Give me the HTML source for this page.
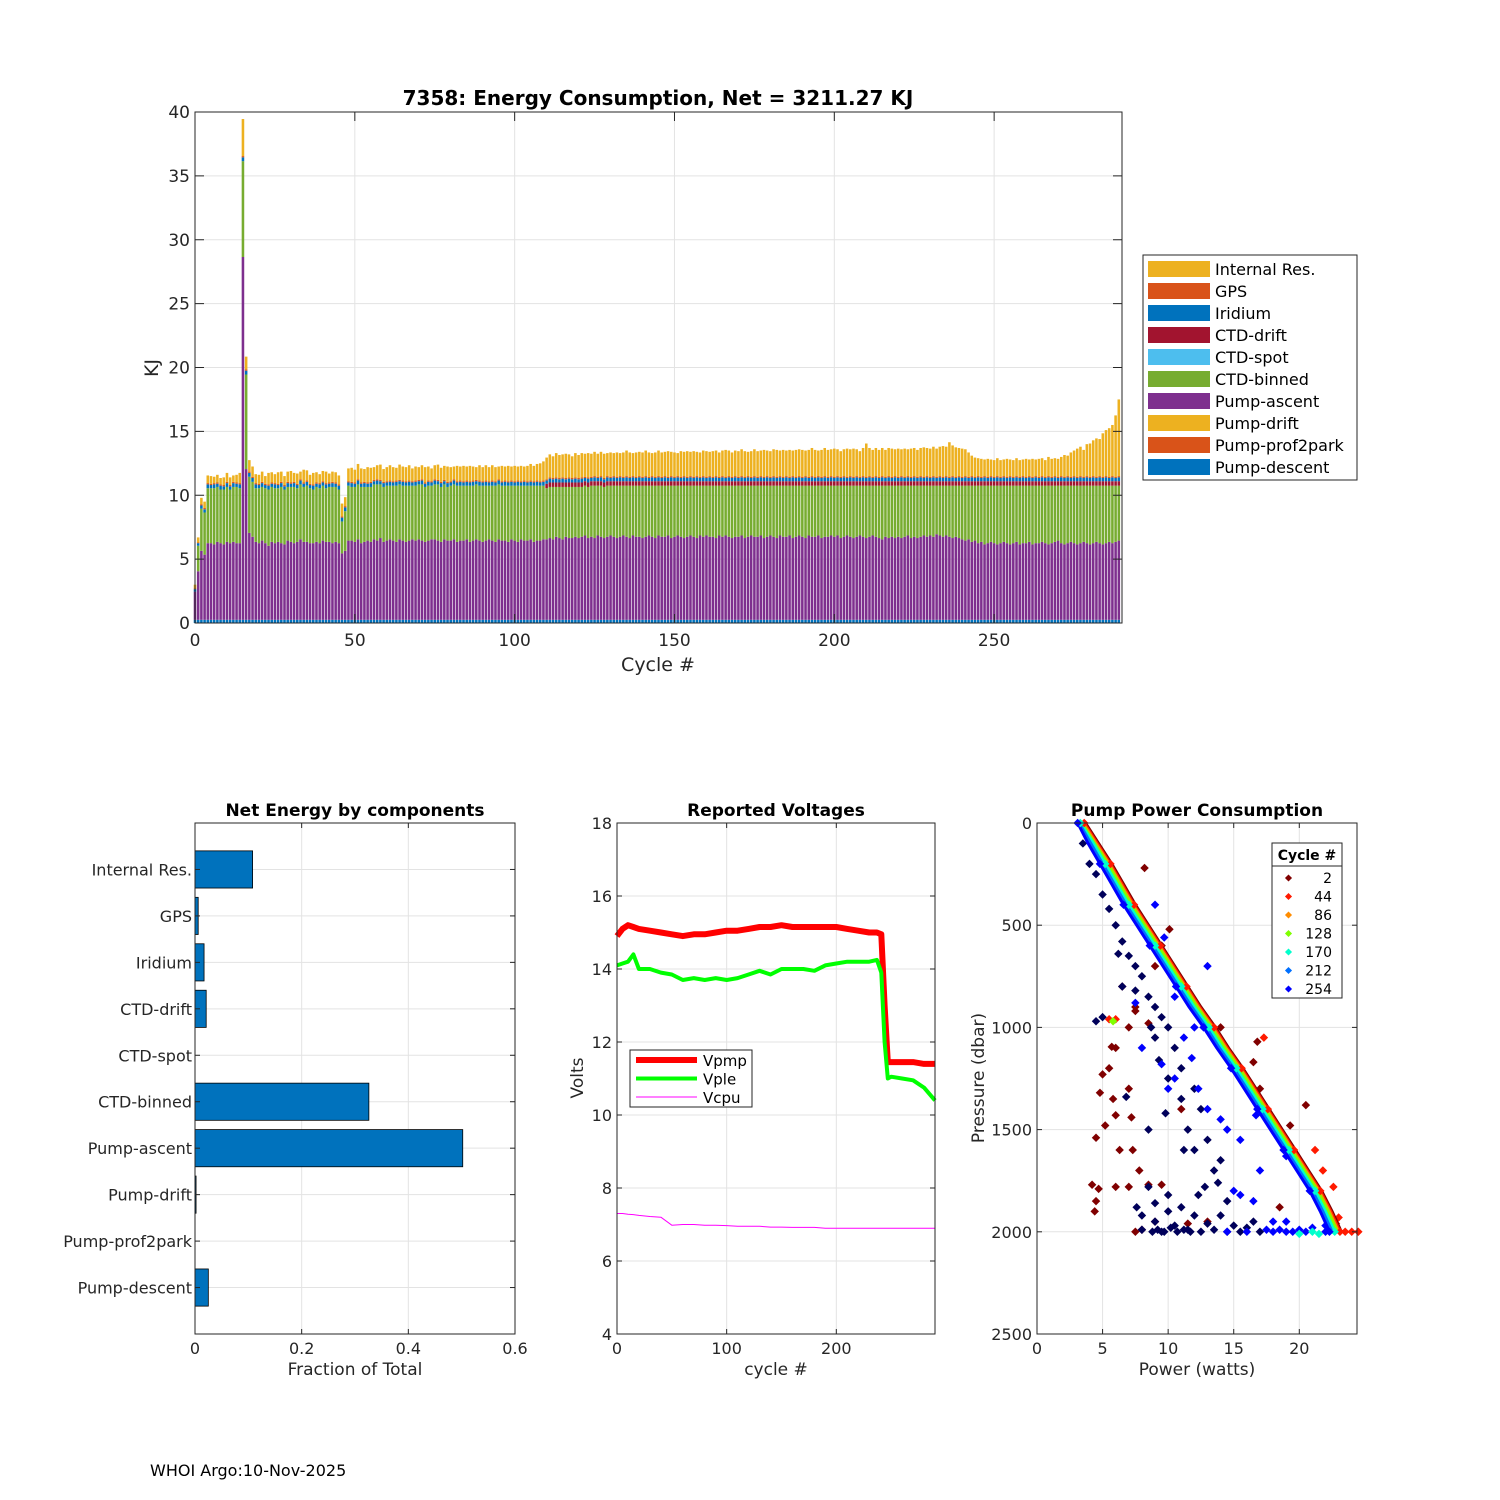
<!DOCTYPE html>
<html><head><meta charset="utf-8"><style>
body{margin:0;background:#fff;}
svg{display:block;font-family:"DejaVu Sans","Liberation Sans",sans-serif;}
</style></head><body>
<svg id="fig" width="1500" height="1500" viewBox="0 0 1500 1500" xmlns="http://www.w3.org/2000/svg">
<rect width="1500" height="1500" fill="#fff"/>
<g id="top"></g>
<g id="bl"></g>
<g id="bm"></g>
<g id="br"></g>
<text x="150" y="1476" font-size="16" fill="#000">WHOI Argo:10-Nov-2025</text>
</svg>
<script>
// ---------- Top chart data ----------
const asc = [2.2,3.8,5.4,5.1,6.0,6.0,5.9,6.1,6.0,5.9,
6.1,6.0,6.1,6.0,6.0,28.4,11.8,6.8,6.5,6.1,
6.0,6.2,6.0,5.8,6.1,6.0,6.1,6.0,5.9,6.2,
6.1,6.0,6.1,6.3,6.1,6.1,6.0,6.0,6.1,6.0,
6.2,6.1,6.1,6.0,6.1,6.0,5.2,5.4,6.2,6.2,
6.1,6.3,6.0,6.1,6.2,6.1,6.3,6.2,6.4,6.1,
6.2,6.3,6.2,6.1,6.3,6.2,6.1,6.2,6.3,6.2,
6.3,6.2,6.1,6.2,6.3,6.3,6.2,6.1,6.3,6.2,
6.2,6.3,6.1,6.2,6.2,6.3,6.1,6.2,6.3,6.2,
6.1,6.2,6.3,6.2,6.1,6.3,6.2,6.2,6.1,6.3,
6.2,6.1,6.3,6.2,6.2,6.3,6.1,6.2,6.2,6.3,
6.3,6.4,6.3,6.5,6.4,6.3,6.5,6.4,6.4,6.5,
6.4,6.5,6.6,6.4,6.5,6.4,6.6,6.5,6.4,6.5,
6.6,6.5,6.4,6.5,6.6,6.5,6.4,6.6,6.5,6.5,
6.4,6.5,6.6,6.5,6.4,6.6,6.5,6.5,6.6,6.4,
6.5,6.6,6.5,6.4,6.5,6.6,6.5,6.4,6.6,6.5,
6.6,6.5,6.5,6.4,6.6,6.5,6.6,6.5,6.4,6.5,
6.5,6.6,6.4,6.5,6.6,6.5,6.5,6.6,6.4,6.5,
6.6,6.5,6.4,6.6,6.5,6.5,6.6,6.4,6.5,6.6,
6.5,6.4,6.6,6.5,6.5,6.6,6.4,6.5,6.5,6.6,
6.5,6.6,6.4,6.5,6.6,6.5,6.4,6.5,6.6,6.5,
6.4,6.5,6.6,6.5,6.4,6.3,6.5,6.4,6.5,6.4,
6.5,6.4,6.5,6.6,6.4,6.5,6.4,6.5,6.6,6.5,
6.6,6.5,6.7,6.6,6.5,6.6,6.5,6.4,6.5,6.4,
6.3,6.2,6.3,6.1,6.2,6.0,6.1,5.9,6.0,6.1,
6.0,5.9,6.0,6.1,6.0,5.9,6.0,6.1,5.9,6.0,
6.0,6.1,5.9,6.0,6.0,6.1,6.0,5.9,6.0,6.1,
6.2,6.0,5.9,6.0,6.1,6.0,5.9,6.0,6.1,6.0,
5.9,6.0,6.1,6.0,5.9,6.0,6.1,6.0,6.1,6.2];
const binned = [0,2.0,3.3,3.3,4.3,4.3,4.4,4.3,4.2,4.3,
4.3,4.2,4.3,4.4,4.3,7.5,7.4,4.4,4.3,4.2,
4.3,4.2,4.3,4.4,4.3,4.3,4.2,4.4,4.3,4.2,
4.3,4.4,4.2,4.3,4.3,4.4,4.3,4.2,4.3,4.3,
4.3,4.2,4.3,4.4,4.3,4.2,2.5,3.1,4.3,4.2,
4.3,4.3,4.4,4.3,4.2,4.3,4.3,4.4,4.2,4.3,
4.3,4.2,4.3,4.4,4.3,4.3,4.4,4.3,4.2,4.3,
4.3,4.4,4.3,4.3,4.2,4.3,4.4,4.3,4.3,4.2,
4.3,4.3,4.4,4.3,4.3,4.2,4.4,4.3,4.3,4.3,
4.4,4.3,4.2,4.3,4.4,4.3,4.3,4.3,4.4,4.2,
4.3,4.4,4.2,4.3,4.3,4.2,4.4,4.3,4.3,4.2,
4.0,4.0,4.1,3.9,4.0,4.1,3.9,4.0,4.0,3.9,
4.0,3.9,3.9,4.0,4.0,4.1,3.9,4.0,4.0,4.0,
3.9,4.0,4.1,4.0,3.9,4.0,4.1,3.9,4.0,4.0,
4.1,4.0,3.9,4.0,4.1,3.9,4.0,4.0,3.9,4.1,
4.0,3.9,4.0,4.1,4.0,3.9,4.0,4.1,3.9,4.0,
3.9,4.0,4.0,4.1,3.9,4.0,3.9,4.0,4.1,4.0,
4.0,3.9,4.1,4.0,3.9,4.0,4.0,3.9,4.1,4.0,
3.9,4.0,4.1,3.9,4.0,4.0,3.9,4.1,4.0,3.9,
4.0,4.1,3.9,4.0,4.0,3.9,4.1,4.0,4.0,3.9,
4.0,3.9,4.1,4.0,3.9,4.0,4.1,4.0,3.9,4.0,
4.1,4.0,3.9,4.0,4.1,4.2,4.0,4.1,4.0,4.1,
4.0,4.1,4.0,3.9,4.1,4.0,4.1,4.0,3.9,4.0,
3.9,4.0,3.8,3.9,4.0,3.9,4.0,4.1,4.0,4.1,
4.2,4.3,4.2,4.4,4.3,4.5,4.4,4.6,4.5,4.4,
4.5,4.6,4.5,4.4,4.5,4.6,4.5,4.4,4.6,4.5,
4.5,4.4,4.6,4.5,4.5,4.4,4.5,4.6,4.5,4.4,
4.3,4.5,4.6,4.5,4.4,4.5,4.6,4.5,4.4,4.5,
4.6,4.5,4.4,4.5,4.6,4.5,4.4,4.5,4.4,4.3];
const intRes = [0.3,0.4,0.5,0.5,0.6,0.6,0.5,0.6,0.5,0.6,
0.7,0.6,0.5,0.6,0.8,2.9,1.0,0.9,0.8,0.7,
0.7,0.8,0.6,0.9,0.8,0.7,0.9,0.8,0.7,0.8,
0.9,0.7,0.8,0.6,1.0,0.8,0.7,0.9,0.8,0.7,
0.8,0.9,0.7,0.8,0.8,0.7,1.0,0.7,1.0,1.1,
1.0,1.2,1.1,1.0,1.2,1.1,1.0,1.1,1.2,1.0,
1.1,1.2,1.1,1.0,1.2,1.1,1.1,1.2,1.0,1.1,
1.0,1.1,1.2,1.1,1.0,1.1,1.2,1.1,1.1,1.2,
1.1,1.0,1.2,1.1,1.2,1.1,1.2,1.1,1.0,1.2,
1.1,1.2,1.1,1.2,1.1,1.0,1.2,1.1,1.2,1.1,
1.2,1.1,1.2,1.1,1.2,1.3,1.2,1.3,1.4,1.5,
1.7,1.8,1.7,1.9,1.8,1.8,1.9,1.8,1.7,1.9,
1.8,1.9,1.8,1.9,1.8,1.9,1.8,1.9,1.9,1.8,
1.9,1.8,1.9,1.8,1.9,2.0,1.9,1.8,1.9,1.9,
1.9,2.0,1.9,1.8,1.9,2.0,1.9,1.9,2.0,1.9,
1.9,1.8,2.0,1.9,2.0,1.9,2.0,1.9,1.9,2.0,
2.0,1.9,2.0,2.0,1.9,2.0,2.1,2.0,1.9,2.0,
2.0,2.1,2.0,1.9,2.0,2.1,2.0,2.0,2.1,2.0,
2.0,2.1,2.1,2.0,2.1,2.0,2.1,2.0,2.1,2.1,
2.1,2.0,2.1,2.2,2.1,2.0,2.1,2.2,2.1,2.1,
2.2,2.1,2.0,2.1,2.2,2.1,2.2,2.1,2.0,2.2,
2.6,2.2,2.1,2.2,2.1,2.2,2.1,2.2,2.2,2.1,
2.2,2.1,2.2,2.1,2.2,2.2,2.1,2.2,2.3,2.2,
2.2,2.3,2.2,2.3,2.4,2.3,2.7,2.4,2.3,2.2,
2.2,2.1,1.9,1.6,1.5,1.4,1.4,1.3,1.4,1.3,
1.3,1.4,1.3,1.3,1.4,1.3,1.3,1.4,1.3,1.3,
1.4,1.3,1.4,1.3,1.4,1.4,1.3,1.5,1.4,1.4,
1.4,1.5,1.7,1.6,1.9,2.0,2.2,2.3,2.1,2.5,
2.6,2.8,3.0,2.9,3.4,3.6,3.8,4.0,4.8,6.0];
const ctdDrift = [0,0,0,0,0,0,0,0,0,0, 0,0,0,0,0,0,0,0,0,0, 0,0,0,0,0,0,0,0,0,0, 0,0,0,0,0,0,0,0,0,0, 0,0,0,0,0,0,0,0,0,0, 0,0,0,0,0,0,0,0,0,0, 0,0,0,0,0,0,0,0,0,0, 0,0,0,0,0,0,0,0,0,0, 0,0,0,0,0,0,0,0,0,0, 0,0,0,0,0,0,0,0,0,0, 0,0,0,0,0,0,0,0,0,0,
0.35,0.35,0.35,0.35,0.35,0.35,0.35,0.35,0.35,0.35, 0.35,0.35,0.35,0.35,0.35,0.35,0.35,0.35,0.35,0.35, 0.35,0.35,0.35,0.35,0.35,0.35,0.35,0.35,0.35,0.35, 0.35,0.35,0.35,0.35,0.35,0.35,0.35,0.35,0.35,0.35, 0.35,0.35,0.35,0.35,0.35,0.35,0.35,0.35,0.35,0.35, 0.35,0.35,0.35,0.35,0.35,0.35,0.35,0.35,0.35,0.35,
0.35,0.35,0.35,0.35,0.35,0.35,0.35,0.35,0.35,0.35, 0.35,0.35,0.35,0.35,0.35,0.35,0.35,0.35,0.35,0.35, 0.35,0.35,0.35,0.35,0.35,0.35,0.35,0.35,0.35,0.35, 0.35,0.35,0.35,0.35,0.35,0.35,0.35,0.35,0.35,0.35, 0.35,0.35,0.35,0.35,0.35,0.35,0.35,0.35,0.35,0.35, 0.35,0.35,0.35,0.35,0.35,0.35,0.35,0.35,0.35,0.35,
0.35,0.35,0.35,0.35,0.35,0.35,0.35,0.35,0.35,0.35, 0.35,0.35,0.35,0.35,0.35,0.35,0.35,0.35,0.35,0.35, 0.35,0.35,0.35,0.35,0.35,0.35,0.35,0.35,0.35,0.35, 0.35,0.35,0.35,0.35,0.35,0.35,0.35,0.35,0.35,0.35, 0.35,0.35,0.35,0.35,0.35,0.35,0.35,0.35,0.35,0.35, 0.35,0.35,0.35,0.35,0.35,0.35,0.35,0.35,0.35,0.35];
const iridium = [0.2,0.2,0.25,0.25,0.3,0.25,0.3,0.25,0.3,0.25, 0.3,0.25,0.3,0.25,0.3,0.3,0.3,0.3,0.3,0.3, 0.25,0.3,0.25,0.3,0.25,0.3,0.25,0.3,0.25,0.3, 0.25,0.3,0.25,0.3,0.25,0.3,0.25,0.3,0.25,0.3, 0.25,0.3,0.25,0.3,0.25,0.3,0.3,0.3,0.25,0.3,
0.25,0.3,0.25,0.3,0.25,0.3,0.25,0.3,0.25,0.3, 0.25,0.3,0.25,0.3,0.25,0.3,0.25,0.3,0.25,0.3, 0.25,0.3,0.25,0.3,0.25,0.3,0.25,0.3,0.25,0.3, 0.25,0.3,0.25,0.3,0.25,0.3,0.25,0.3,0.25,0.3, 0.25,0.3,0.25,0.3,0.25,0.3,0.25,0.3,0.25,0.3,
0.25,0.3,0.25,0.3,0.25,0.3,0.25,0.3,0.25,0.3, 0.25,0.3,0.25,0.3,0.25,0.3,0.25,0.3,0.25,0.3, 0.25,0.3,0.25,0.3,0.25,0.3,0.25,0.3,0.25,0.3, 0.25,0.3,0.25,0.3,0.25,0.3,0.25,0.3,0.25,0.3, 0.25,0.3,0.25,0.3,0.25,0.3,0.25,0.3,0.25,0.3,
0.25,0.3,0.25,0.3,0.25,0.3,0.25,0.3,0.25,0.3, 0.25,0.3,0.25,0.3,0.25,0.3,0.25,0.3,0.25,0.3, 0.25,0.3,0.25,0.3,0.25,0.3,0.25,0.3,0.25,0.3, 0.25,0.3,0.25,0.3,0.25,0.3,0.25,0.3,0.25,0.3, 0.25,0.3,0.25,0.3,0.25,0.3,0.25,0.3,0.25,0.3,
0.25,0.3,0.25,0.3,0.25,0.3,0.25,0.3,0.25,0.3, 0.25,0.3,0.25,0.3,0.25,0.3,0.25,0.3,0.25,0.3, 0.25,0.3,0.25,0.3,0.25,0.3,0.25,0.3,0.25,0.3, 0.25,0.3,0.25,0.3,0.25,0.3,0.25,0.3,0.25,0.3, 0.25,0.3,0.25,0.3,0.25,0.3,0.25,0.3,0.25,0.3,
0.25,0.3,0.25,0.3,0.25,0.3,0.25,0.3,0.25,0.3, 0.25,0.3,0.25,0.3,0.25,0.3,0.25,0.3,0.25,0.3, 0.25,0.3,0.25,0.3,0.25,0.3,0.25,0.3,0.25,0.3, 0.25,0.3,0.25,0.3,0.25,0.3,0.25,0.3,0.25,0.3];
const gps = [0.05,0.05,0.1,0.1,0.1,0.1,0.1,0.1,0.1,0.1, 0.1,0.1,0.1,0.1,0.1,0.1,0.1,0.1,0.1,0.1, 0.1,0.1,0.1,0.1,0.1,0.1,0.1,0.1,0.1,0.1, 0.1,0.1,0.1,0.1,0.1,0.1,0.1,0.1,0.1,0.1, 0.1,0.1,0.1,0.1,0.1,0.1,0.1,0.1,0.1,0.1,
0.1,0.1,0.1,0.1,0.1,0.1,0.1,0.1,0.1,0.1, 0.1,0.1,0.1,0.1,0.1,0.1,0.1,0.1,0.1,0.1, 0.1,0.1,0.1,0.1,0.1,0.1,0.1,0.1,0.1,0.1, 0.1,0.1,0.1,0.1,0.1,0.1,0.1,0.1,0.1,0.1, 0.1,0.1,0.1,0.1,0.1,0.1,0.1,0.1,0.1,0.1,
0.1,0.1,0.1,0.1,0.1,0.1,0.1,0.1,0.1,0.1, 0.1,0.1,0.1,0.1,0.1,0.1,0.1,0.1,0.1,0.1, 0.1,0.1,0.1,0.1,0.1,0.1,0.1,0.1,0.1,0.1, 0.1,0.1,0.1,0.1,0.1,0.1,0.1,0.1,0.1,0.1, 0.1,0.1,0.1,0.1,0.1,0.1,0.1,0.1,0.1,0.1,
0.1,0.1,0.1,0.1,0.1,0.1,0.1,0.1,0.1,0.1, 0.1,0.1,0.1,0.1,0.1,0.1,0.1,0.1,0.1,0.1, 0.1,0.1,0.1,0.1,0.1,0.1,0.1,0.1,0.1,0.1, 0.1,0.1,0.1,0.1,0.1,0.1,0.1,0.1,0.1,0.1, 0.1,0.1,0.1,0.1,0.1,0.1,0.1,0.1,0.1,0.1,
0.1,0.1,0.1,0.1,0.1,0.1,0.1,0.1,0.1,0.1, 0.1,0.1,0.1,0.1,0.1,0.1,0.1,0.1,0.1,0.1, 0.1,0.1,0.1,0.1,0.1,0.1,0.1,0.1,0.1,0.1, 0.1,0.1,0.1,0.1,0.1,0.1,0.1,0.1,0.1,0.1, 0.1,0.1,0.1,0.1,0.1,0.1,0.1,0.1,0.1,0.1,
0.1,0.1,0.1,0.1,0.1,0.1,0.1,0.1,0.1,0.1, 0.1,0.1,0.1,0.1,0.1,0.1,0.1,0.1,0.1,0.1, 0.1,0.1,0.1,0.1,0.1,0.1,0.1,0.1,0.1,0.1, 0.1,0.1,0.1,0.1,0.1,0.1,0.1,0.1,0.1,0.1];
const descentBase = 0.25;
const topXTicks = [0,50,100,150,200,250];
const topYTicks = [0,5,10,15,20,25,30,35,40];
const legendLabels = ["Internal Res.","GPS","Iridium","CTD-drift","CTD-spot","CTD-binned","Pump-ascent","Pump-drift","Pump-prof2park","Pump-descent"];
const legendColors = ["#EDB120","#D95319","#0072BD","#A2142F","#4DBEEE","#77AC30","#7E2F8E","#EDB120","#D95319","#0072BD"];

// ---------- Net energy ----------
const compNames = ["Internal Res.","GPS","Iridium","CTD-drift","CTD-spot","CTD-binned","Pump-ascent","Pump-drift","Pump-prof2park","Pump-descent"];
const compFrac = [0.108,0.006,0.017,0.021,0,0.326,0.502,0.002,0,0.025];
const fracTicks = [0,0.2,0.4,0.6];

// ---------- Voltages ----------
const vCycle = [0,5,10,15,20,30,40,50,60,70,80,90,100,110,120,130,140,150,160,170,180,190,200,210,220,230,237,241,244,247,250,260,270,280,290];
const vpmp = [14.9,15.1,15.2,15.15,15.1,15.05,15.0,14.95,14.9,14.95,14.95,15.0,15.05,15.05,15.1,15.15,15.15,15.2,15.15,15.15,15.15,15.15,15.15,15.1,15.05,15.0,15.0,14.95,13.0,11.45,11.45,11.45,11.45,11.4,11.4];
const vple = [14.1,14.15,14.2,14.4,14.0,14.0,13.9,13.85,13.7,13.75,13.7,13.75,13.7,13.75,13.85,13.95,13.85,14.0,14.0,14.0,13.95,14.1,14.15,14.2,14.2,14.2,14.25,13.9,12.0,11.0,11.05,11.0,10.95,10.75,10.4];
const vcpu = [7.3,7.3,7.28,7.27,7.25,7.22,7.2,6.98,7.0,7.0,6.98,6.98,6.97,6.95,6.95,6.95,6.93,6.93,6.92,6.92,6.92,6.9,6.9,6.9,6.9,6.9,6.9,6.9,6.9,6.9,6.9,6.9,6.9,6.9,6.9];
const voltTicks = [4,6,8,10,12,14,16,18];
const cycTicks = [0,100,200];

// ---------- Pump power ----------
const legendCycles = [2,44,86,128,170,212,254];
const cycColors = ["#800000","#ff1a00","#ff8c00","#7fff00","#00ffcc","#0070ff","#0000ff"];
const diagPres = [0,100,200,300,400,500,600,700,800,900,1000,1100,1200,1300,1400,1500,1600,1700,1800,1900,2000];
const diagPow2   = [3.7,4.7,5.7,6.6,7.5,8.5,9.5,10.5,11.5,12.5,13.6,14.6,15.7,16.7,17.7,18.7,19.7,20.7,21.7,22.5,23.2];
const diagPow44  = [3.6,4.6,5.6,6.5,7.4,8.4,9.4,10.4,11.4,12.4,13.5,14.5,15.6,16.6,17.6,18.6,19.6,20.6,21.6,22.4,23.1];
const diagPow86  = [3.5,4.5,5.5,6.4,7.3,8.3,9.3,10.3,11.3,12.3,13.4,14.4,15.5,16.5,17.5,18.5,19.5,20.5,21.5,22.3,23.0];
const diagPow128 = [3.4,4.4,5.4,6.3,7.2,8.2,9.2,10.2,11.2,12.2,13.3,14.3,15.4,16.4,17.4,18.4,19.4,20.4,21.4,22.2,22.9];
const diagPow170 = [3.3,4.3,5.2,6.1,7.0,8.0,9.0,10.0,11.0,12.0,13.1,14.1,15.2,16.2,17.2,18.2,19.2,20.2,21.2,22.0,22.7];
const diagPow212 = [3.2,4.1,5.0,5.9,6.8,7.8,8.8,9.8,10.8,11.8,12.9,13.9,15.0,16.0,17.0,18.0,19.0,20.0,21.0,21.8,22.5];
const diagPow254 = [3.1,3.9,4.8,5.7,6.6,7.6,8.6,9.6,10.6,11.6,12.7,13.7,14.8,15.8,16.8,17.8,18.8,19.8,20.8,21.6,22.3];
const scPow = [4.2,4.4,4.5,4.7,6.0,7.0,8.5,9.5,7.5,8.0,4.5,5.0,5.8,6.0,6.3,7.2,7.3,7.8,6.0,7.0,5.5,4.8,5.2,9.0,11.5,13.0,17.0,19.3,20.5,7.0,8.5,5.7,6.5,7.5,9.0,9.5,10.1,8.2,7.5,16.5,14.0,11.0,18.5,17.3,16.8,21.2,21.8,22.6,23.0,23.5,24.0,24.5,22.8,5.5,6.0,
3.5,4.0,4.5,5.0,5.5,6.0,6.5,7.0,7.5,8.0,6.5,7.5,8.5,9.0,9.5,10.0,9.0,10.5,11.0,10.0,12.0,11.0,12.5,11.5,13.0,12.0,14.0,13.5,10.0,8.5,7.6,8.0,8.0,9.0,9.0,9.5,10.0,10.5,11.0,11.5,12.0,12.5,13.0,13.5,14.0,14.5,15.0,15.5,16.0,17.0,16.5,12.3,12.8,14.5,8.5,9.8,11.2,13.8,6.8,9.3,8.7,6.2,7.8,8.8,9.2,9.7,10.2,10.7,11.2,11.7,
4.5,5.0,8.0,9.5,10.0,10.5,11.2,11.8,12.3,13.0,14.0,14.5,15.5,17.0,15.0,16.5,18.0,19.0,20.0,21.0,22.0,18.5,17.5,12.0,9.0,6.0,5.5,4.5,4.0,7.5,10.5,13.0,9.7,16.7,19.0,15.5,14.5,16.0,19.0,20.5,22.0,
18.0,19.5,21.0,22.5,20.0,21.5,5.8];
const scPres = [1770,1900,1850,1790,1780,1780,1770,1770,2000,1990,1540,1230,1350,1430,1600,1440,1600,1700,1100,1300,1200,1320,1480,1950,1960,1950,1300,1480,1380,1000,980,1095,800,920,700,600,520,220,900,1170,1000,1400,1880,1050,1070,1600,1700,1780,1930,2000,2000,2000,1960,960,960,
100,200,250,350,420,500,580,650,700,750,800,820,850,900,950,1000,1050,1100,1200,1250,1300,1350,1400,1500,1550,1600,1650,1700,1820,1780,1880,1920,1990,1860,1950,2000,1900,1970,1880,1990,1920,2000,1960,1990,1920,2000,1970,2000,1980,2000,1950,1820,1780,1850,1500,1420,1600,1760,1340,1160,1000,640,470,2000,1990,2000,1980,2000,1990,2000,
970,950,1100,1180,1300,1250,1050,1150,1300,1400,1450,1500,1550,1700,1800,1850,1950,1950,1990,1980,1970,1990,1990,1000,400,300,200,100,50,880,850,700,560,1430,1630,1820,2000,2000,2000,2000,2000,
2000,2000,2000,1990,2010,2010,970];
const scCyc = [2,2,2,2,2,2,2,2,2,2,2,2,2,2,2,2,2,2,2,2,2,2,2,2,2,2,2,2,2,2,2,2,2,2,2,2,2,2,2,2,2,2,2,44,2,44,44,44,44,44,44,44,44,44,44,
290,290,290,290,290,290,290,290,290,290,290,290,290,290,290,290,290,290,290,290,290,290,290,290,290,290,290,290,290,290,290,290,290,290,290,290,290,290,290,290,290,290,290,290,290,290,290,290,290,290,290,290,290,290,290,290,290,290,290,290,290,290,290,290,290,290,290,290,290,290,290,290,
254,254,254,254,254,254,254,254,254,254,254,254,254,254,254,254,254,254,254,254,254,254,254,254,254,254,254,254,254,254,254,254,254,254,254,254,254,254,254,254,254,
170,170,170,170,128,128,128];
const powTicks = [0,5,10,15,20];
const presTicks = [0,500,1000,1500,2000,2500];

// ---------- helpers ----------
const NS = "http://www.w3.org/2000/svg";
function mk(parent, tag, attrs, text){
  const e = document.createElementNS(NS, tag);
  for (const k in attrs) e.setAttribute(k, attrs[k]);
  if (text !== undefined) e.textContent = text;
  parent.appendChild(e);
  return e;
}
const GRID = "#e3e3e3", AX = "#262626";

// ================= TOP CHART =================
(function(){
  const g = document.getElementById("top");
  const L=195, R=1122, T=112, B=623;
  const xs = v => L + v*(R-L)/290;
  const ys = v => B - v*(B-T)/40;
  topXTicks.forEach(t=>{ if(t>0){ const l=mk(g,"line",{x1:xs(t),x2:xs(t),y1:T,y2:B,stroke:GRID});
      }});
  topYTicks.forEach(t=>{ if(t>0){ const l=mk(g,"line",{x1:L,x2:R,y1:ys(t),y2:ys(t),stroke:GRID});
      }});
  const bw = 0.8*(R-L)/290;
  for(let i=0;i<asc.length;i++){
    const segs = [[descentBase,"#0072BD"],[asc[i],"#7E2F8E"],[binned[i],"#77AC30"],[ctdDrift[i],"#A2142F"],[iridium[i],"#0072BD"],[gps[i],"#D95319"],[intRes[i],"#EDB120"]];
    let base = 0;
    const bg = mk(g,"g",{});
    
    
    segs.forEach(s=>{
      if(s[0]>0){
        mk(bg,"rect",{x:xs(i)-bw/2,y:ys(base+s[0]),width:bw,height:ys(base)-ys(base+s[0]),fill:s[1]});
      }
      base += s[0];
    });
  }
  const box = mk(g,"rect",{x:L,y:T,width:R-L,height:B-T,fill:"none",stroke:AX,"stroke-width":1});
   
  topXTicks.forEach(t=>{
    mk(g,"line",{x1:xs(t),x2:xs(t),y1:B,y2:B-9,stroke:AX});
    mk(g,"line",{x1:xs(t),x2:xs(t),y1:T,y2:T+9,stroke:AX});
    const tx = mk(g,"text",{x:xs(t),y:B+23,"font-size":17,"text-anchor":"middle",fill:AX},t);
     
  });
  topYTicks.forEach(t=>{
    mk(g,"line",{x1:L,x2:L+9,y1:ys(t),y2:ys(t),stroke:AX});
    mk(g,"line",{x1:R,x2:R-9,y1:ys(t),y2:ys(t),stroke:AX});
    const tx = mk(g,"text",{x:L-5,y:ys(t)+6,"font-size":17,"text-anchor":"end",fill:AX},t);
     
  });
  const ti = mk(g,"text",{x:658,y:105,"font-size":20,"font-weight":"bold","text-anchor":"middle",fill:"#000","xml:space":"preserve"},"7358: Energy Consumption,  Net = 3211.27 KJ");
   
  const xl = mk(g,"text",{x:658,y:671,"font-size":19,"text-anchor":"middle",fill:AX},"Cycle #");
   
  const yl = mk(g,"text",{x:158,y:368,"font-size":19,"text-anchor":"middle",fill:AX,transform:"rotate(-90 158 368)"},"KJ");
   
  const lg = mk(g,"g",{});
   
  mk(lg,"rect",{x:1143,y:255,width:214,height:225,fill:"#fff",stroke:AX});
  legendLabels.forEach((lab,k)=>{
    const yy = 269 + k*22;
    const e = mk(lg,"g",{});
     
    mk(e,"rect",{x:1148,y:yy-8,width:62,height:16,fill:legendColors[k]});
    mk(e,"text",{x:1215,y:yy+6,"font-size":16,fill:"#000"},lab);
  });
})();

// ================= NET ENERGY =================
(function(){
  const g = document.getElementById("bl");
  const L=195, R=515, T=823, B=1334;
  const xs = v => L + v*(R-L)/0.6;
  const step = (B-T)/11;
  const yc = k => T + step*(k+1);
  fracTicks.forEach(t=>{ if(t>0&&t<0.6){ mk(g,"line",{x1:xs(t),x2:xs(t),y1:T,y2:B,stroke:GRID}); }});
  compNames.forEach((n,k)=>{ mk(g,"line",{x1:L,x2:R,y1:yc(k),y2:yc(k),stroke:GRID}); });
  compNames.forEach((n,k)=>{
    const bh = step*0.8;
    if(compFrac[k]>0){
      const r = mk(g,"rect",{x:L,y:yc(k)-bh/2,width:xs(compFrac[k])-L,height:bh,fill:"#0072BD",stroke:"#000","stroke-width":0.8});
      
      
    }
    const tx = mk(g,"text",{x:L-3,y:yc(k)+6,"font-size":16,"text-anchor":"end",fill:AX},n);
     
    mk(g,"line",{x1:L,x2:L+5,y1:yc(k),y2:yc(k),stroke:AX});
    mk(g,"line",{x1:R,x2:R-5,y1:yc(k),y2:yc(k),stroke:AX});
  });
  mk(g,"rect",{x:L,y:T,width:R-L,height:B-T,fill:"none",stroke:AX});
  fracTicks.forEach(t=>{
    mk(g,"line",{x1:xs(t),x2:xs(t),y1:B,y2:B-5,stroke:AX});
    mk(g,"line",{x1:xs(t),x2:xs(t),y1:T,y2:T+5,stroke:AX});
    const tx = mk(g,"text",{x:xs(t),y:B+20,"font-size":16,"text-anchor":"middle",fill:AX},t);
     
  });
  const ti = mk(g,"text",{x:355,y:816,"font-size":17,"font-weight":"bold","text-anchor":"middle",fill:"#000"},"Net Energy by components");
   
  const xl = mk(g,"text",{x:355,y:1375,"font-size":17,"text-anchor":"middle",fill:AX},"Fraction of Total");
   
})();

// ================= VOLTAGES =================
(function(){
  const g = document.getElementById("bm");
  const L=617, R=935, T=823, B=1334;
  const xs = v => L + v*(R-L)/290;
  const ys = v => B - (v-4)*(B-T)/14;
  cycTicks.forEach(t=>{ if(t>0) mk(g,"line",{x1:xs(t),x2:xs(t),y1:T,y2:B,stroke:GRID}); });
  voltTicks.forEach(t=>{ if(t>4&&t<18) mk(g,"line",{x1:L,x2:R,y1:ys(t),y2:ys(t),stroke:GRID}); });
  function line(arr,color,w,name){
    const pts = vCycle.map((c,i)=>xs(c).toFixed(1)+","+ys(arr[i]).toFixed(1)).join(" ");
    const p = mk(g,"polyline",{points:pts,fill:"none",stroke:color,"stroke-width":w,"stroke-linejoin":"round"});
     
  }
  line(vcpu,"#ff00ff",1,"vcpu-line");
  line(vpmp,"#ff0000",6,"vpmp-line");
  line(vple,"#00ff00",4,"vple-line");
  mk(g,"rect",{x:L,y:T,width:R-L,height:B-T,fill:"none",stroke:AX});
  cycTicks.forEach(t=>{
    mk(g,"line",{x1:xs(t),x2:xs(t),y1:B,y2:B-5,stroke:AX});
    mk(g,"line",{x1:xs(t),x2:xs(t),y1:T,y2:T+5,stroke:AX});
    const tx = mk(g,"text",{x:xs(t),y:B+20,"font-size":16,"text-anchor":"middle",fill:AX},t);
     
  });
  voltTicks.forEach(t=>{
    mk(g,"line",{x1:L,x2:L+5,y1:ys(t),y2:ys(t),stroke:AX});
    mk(g,"line",{x1:R,x2:R-5,y1:ys(t),y2:ys(t),stroke:AX});
    const tx = mk(g,"text",{x:L-5,y:ys(t)+6,"font-size":16,"text-anchor":"end",fill:AX},t);
     
  });
  const ti = mk(g,"text",{x:776,y:816,"font-size":17,"font-weight":"bold","text-anchor":"middle",fill:"#000"},"Reported Voltages");
   
  const xl = mk(g,"text",{x:776,y:1375,"font-size":17,"text-anchor":"middle",fill:AX},"cycle #");
   
  const yl = mk(g,"text",{x:583,y:1078,"font-size":17,"text-anchor":"middle",fill:AX,transform:"rotate(-90 583 1078)"},"Volts");
   
  const lg = mk(g,"g",{});
   
  mk(lg,"rect",{x:630,y:1050,width:122,height:57,fill:"#fff",stroke:AX});
  [["Vpmp","#ff0000",6],["Vple","#00ff00",4],["Vcpu","#ff00ff",1]].forEach((e,k)=>{
    const yy = 1060 + k*18.5;
    const eg = mk(lg,"g",{});
     
    mk(eg,"line",{x1:636,x2:697,y1:yy,y2:yy,stroke:e[1],"stroke-width":e[2]});
    mk(eg,"text",{x:703,y:yy+6,"font-size":15,fill:"#000"},e[0]);
  });
})();

// ================= PUMP POWER =================
(function(){
  const g = document.getElementById("br");
  const L=1037, R=1357, T=823, B=1334;
  const xs = v => L + v*(R-L)/24.4;
  const ys = v => T + v*(B-T)/2500;
  powTicks.forEach(t=>{ if(t>0) mk(g,"line",{x1:xs(t),x2:xs(t),y1:T,y2:B,stroke:GRID}); });
  presTicks.forEach(t=>{ if(t>0&&t<2500) mk(g,"line",{x1:L,x2:R,y1:ys(t),y2:ys(t),stroke:GRID}); });
  function colorFor(c){
    if(c>=280) return "#00005a";
    let best=0; legendCycles.forEach((lc,i)=>{ if(Math.abs(lc-c)<Math.abs(legendCycles[best]-c)) best=i; });
    return cycColors[best];
  }
  function dot(px,py,col){
    const d = mk(g,"rect",{x:xs(px)-3,y:ys(py)-3,width:6,height:6,fill:col,transform:"rotate(45 "+xs(px)+" "+ys(py)+")"});
     
  }
  const diagSets = [[diagPow2,0],[diagPow44,1],[diagPow86,2],[diagPow128,3],[diagPow170,4],[diagPow212,5],[diagPow254,6]];
  scPow.forEach((p,i)=>dot(p,scPres[i],colorFor(scCyc[i])));
  diagSets.forEach(s=>{
    const col = cycColors[s[1]];
    const pts = diagPres.map((pr,i)=>xs(s[0][i]).toFixed(1)+","+ys(pr).toFixed(1)).join(" ");
    const pl = mk(g,"polyline",{points:pts,fill:"none",stroke:col,"stroke-width":3});
     
  });
  [[diagPow44,1],[diagPow170,4],[diagPow254,6]].forEach(s=>{
    diagPres.forEach((pr,i)=>{ if(i%2===0) dot(s[0][i],pr,cycColors[s[1]]); });
  });
  mk(g,"rect",{x:L,y:T,width:R-L,height:B-T,fill:"none",stroke:AX});
  powTicks.forEach(t=>{
    mk(g,"line",{x1:xs(t),x2:xs(t),y1:B,y2:B-5,stroke:AX});
    mk(g,"line",{x1:xs(t),x2:xs(t),y1:T,y2:T+5,stroke:AX});
    const tx = mk(g,"text",{x:xs(t),y:B+20,"font-size":16,"text-anchor":"middle",fill:AX},t);
     
  });
  presTicks.forEach(t=>{
    mk(g,"line",{x1:L,x2:L+5,y1:ys(t),y2:ys(t),stroke:AX});
    mk(g,"line",{x1:R,x2:R-5,y1:ys(t),y2:ys(t),stroke:AX});
    const tx = mk(g,"text",{x:L-5,y:ys(t)+6,"font-size":16,"text-anchor":"end",fill:AX},t);
     
  });
  const ti = mk(g,"text",{x:1197,y:816,"font-size":17,"font-weight":"bold","text-anchor":"middle",fill:"#000"},"Pump Power Consumption");
   
  const xl = mk(g,"text",{x:1197,y:1375,"font-size":17,"text-anchor":"middle",fill:AX},"Power (watts)");
   
  const yl = mk(g,"text",{x:984,y:1078,"font-size":17,"text-anchor":"middle",fill:AX,transform:"rotate(-90 984 1078)"},"Pressure (dbar)");
   
  const lg = mk(g,"g",{});
   
  mk(lg,"rect",{x:1272,y:843,width:70,height:155,fill:"#fff",stroke:AX});
  mk(lg,"line",{x1:1272,x2:1342,y1:866,y2:866,stroke:AX});
  mk(lg,"text",{x:1307,y:860,"font-size":14,"font-weight":"bold","text-anchor":"middle",fill:"#000"},"Cycle #");
  legendCycles.forEach((c,k)=>{
    const yy = 878 + k*18.5;
    const eg = mk(lg,"g",{});
     
    mk(eg,"rect",{x:1286,y:yy-2.5,width:5,height:5,fill:cycColors[k],transform:"rotate(45 1288.5 "+yy+")"});
    mk(eg,"text",{x:1332,y:yy+5,"font-size":14,"text-anchor":"end",fill:"#000"},c);
  });
})();
</script>
</body></html>
